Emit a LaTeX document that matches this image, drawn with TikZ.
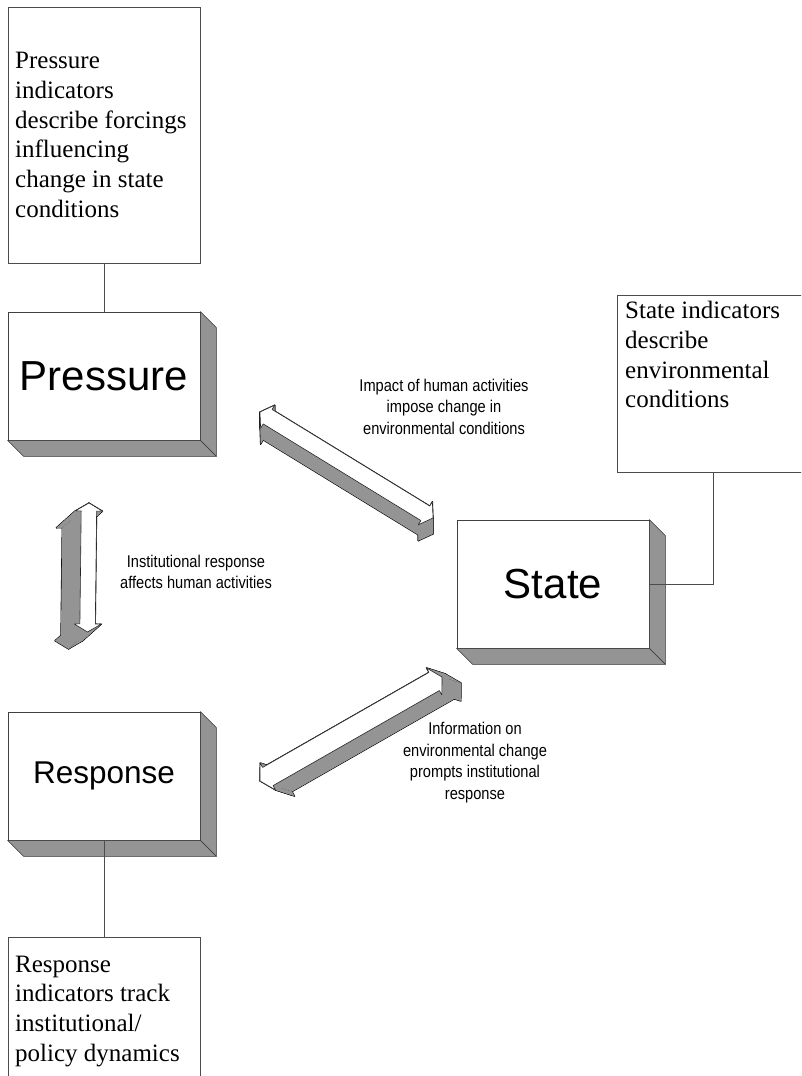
\documentclass[tikz,border=0pt]{standalone}
\usepackage{fontspec}
\setmainfont{Liberation Serif}
\newfontfamily\blockfont{Liberation Sans}
\newfontfamily\narrowfont[FakeStretch=0.86]{Liberation Sans}
\usetikzlibrary{calc, positioning}

\tikzset{
  block/.style={draw=black!75, line width=0.7pt, fill=white, minimum width=192pt, minimum height=128pt, inner sep=0pt, font=\blockfont\fontsize{42}{48}\selectfont},
  notebox/.style={draw=black!70, line width=0.7pt, fill=white, minimum width=192pt, inner sep=0pt},
  notetext/.style={inner sep=0pt, align=left, font=\fontsize{25}{29.8}\selectfont},
  flowlabel/.style={inner sep=0pt, align=center, font=\narrowfont\fontsize{17}{21.5}\selectfont},
  wire/.style={draw=black!70, line width=0.7pt},
  boxside/.style={fill=black!42, draw=black!80, line width=0.6pt, line join=round}
}

% side and bottom faces of a block
\newcommand{\blockdepth}[1]{%
  \filldraw[boxside] (#1.north east) -- ++(16,-16) -- ($(#1.south east)+(16,-16)$) -- (#1.south east) -- cycle;
  \filldraw[boxside] (#1.south west) -- ++(16,-16) -- ($(#1.south east)+(16,-16)$) -- (#1.south east) -- cycle;
}

% 3D double arrow: start, end, shaft half width, head half width, head length, depth
\newcommand{\threedarrow}[6]{%
  \path let \p1 = ($(#2)-(#1)$), \n1 = {atan2(\y1,\x1)} in
    coordinate (a0) at (#1)
    coordinate (a1) at ($(#1)+(\n1:#5)+({\n1+90}:#4)$)
    coordinate (a2) at ($(#1)+(\n1:#5)+({\n1+90}:#3)$)
    coordinate (a3) at ($(#2)+(\n1:-#5)+({\n1+90}:#3)$)
    coordinate (a4) at ($(#2)+(\n1:-#5)+({\n1+90}:#4)$)
    coordinate (a5) at (#2)
    coordinate (a6) at ($(#2)+(\n1:-#5)+({\n1-90}:#4)$)
    coordinate (a7) at ($(#2)+(\n1:-#5)+({\n1-90}:#3)$)
    coordinate (a8) at ($(#1)+(\n1:#5)+({\n1-90}:#3)$)
    coordinate (a9) at ($(#1)+(\n1:#5)+({\n1-90}:#4)$);
  % outline of the extruded part
  \foreach \i/\j in {0/1,1/2,2/3,3/4,4/5,5/6,6/7,7/8,8/9,9/0}
    \draw[line width=1.2pt, line join=round] (a\i) -- (a\j) -- ($(a\j)+(#6)$) -- ($(a\i)+(#6)$) -- cycle;
  \foreach \i/\j in {0/1,1/2,2/3,3/4,4/5,5/6,6/7,7/8,8/9,9/0}
    \fill[black!42] (a\i) -- (a\j) -- ($(a\j)+(#6)$) -- ($(a\i)+(#6)$) -- cycle;
  % top face
  \filldraw[fill=white, draw=black!85, line width=0.6pt, line join=round]
    (a0) -- (a1) -- (a2) -- (a3) -- (a4) -- (a5) -- (a6) -- (a7) -- (a8) -- (a9) -- cycle;
}

\begin{document}
\begin{tikzpicture}[x=1pt, y=1pt]
  \useasboundingbox (0,0) rectangle (801,1076);
  \clip (0,0) rectangle (801,1076);
  \fill[white] (0,0) rectangle (801,1076);

  % indicator notes
  \node[notebox, minimum height=256pt] (pnote) at (104,941) {};
  \node[notetext, anchor=west] (ptext) at (15,941) {Pressure\\ indicators\\ describe forcings\\ influencing\\ change in state\\ conditions};
  \node[notebox, minimum height=177pt] (snote) at (713,692.5) {};
  \node[notetext, anchor=north west] (stext) at (625,775) {State indicators\\ describe\\ environmental\\ conditions};
  \node[notebox, minimum height=160pt] (rnote) at (104,59) {};
  \node[notetext, anchor=north west] (rtext) at (15,120.5) {Response\\ indicators track\\ institutional/\\ policy dynamics};

  % main blocks
  \node[block] (pressure) at (104,700) {Pressure};
  \node[block] (state) at (553,492) {State};
  \node[block, font=\blockfont\fontsize{31.5}{36}\selectfont] (response) at (104,300) {Response};
  \blockdepth{pressure}
  \blockdepth{state}
  \blockdepth{response}

  % links to notes
  \draw[wire] (pnote.south) -- (pressure.north);
  \draw[wire] (snote.south) |- (state.east);
  \draw[wire] (response.south) -- (rnote.north);

  % arrows
  \coordinate (ps1) at (260,664);
  \coordinate (ps2) at (433,558);
  \coordinate (pr1) at (89,573);
  \coordinate (pr2) at (87.5,444);
  \coordinate (rs1) at (260,295);
  \coordinate (rs2) at (442,399);
  \threedarrow{ps1}{ps2}{8.5}{13.5}{9}{0,-16}
  \threedarrow{pr1}{pr2}{7.7}{13.5}{8}{-19,-17}
  \threedarrow{rs1}{rs2}{10.5}{15.5}{9}{19,-6}

  % arrow labels
  \node[flowlabel] (impactlbl) at (444,669.5) {Impact of human activities\\ impose change in\\ environmental conditions};
  \node[flowlabel] (instlbl) at (196,504) {Institutional response\\ affects human activities};
  \node[flowlabel] (infolbl) at (475,313.5) {Information on\\ environmental change\\ prompts institutional\\ response};
\end{tikzpicture}
\end{document}
